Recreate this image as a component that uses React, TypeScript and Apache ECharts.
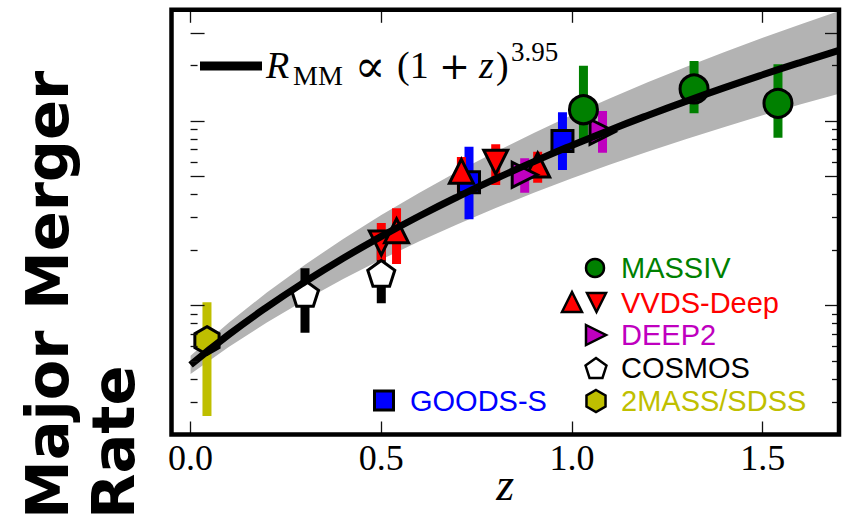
import React, { useEffect, useRef } from 'react';
import * as echarts from 'echarts';

// ---------- data ----------
const xTicks = [0, 0.5, 1.0, 1.5];
const yMajorTicks = [0.01, 0.05, 0.1, 0.3];
const yMinorTicks = [0.003, 0.004, 0.005, 0.006, 0.007, 0.008, 0.009, 0.02, 0.03, 0.04, 0.06, 0.07, 0.08, 0.09, 0.2];

const fitZ = [0, 0.1, 0.2, 0.3, 0.4, 0.5, 0.6, 0.7, 0.8, 0.9, 1.0, 1.1, 1.2, 1.3, 1.4, 1.5, 1.6, 1.7];
const fitRate = [0.00477, 0.00695, 0.0098, 0.01344, 0.01802, 0.02367, 0.03054, 0.0388, 0.0486, 0.0602, 0.0737, 0.0894, 0.1074, 0.128, 0.1515, 0.178, 0.2078, 0.2412];
const bandUpper = [0.00534, 0.00807, 0.01176, 0.01664, 0.02293, 0.03092, 0.04088, 0.05314, 0.06808, 0.08603, 0.1075, 0.1327, 0.1623, 0.1968, 0.2366, 0.2823, 0.3345, 0.394];
const bandLower = [0.00426, 0.00596, 0.00809, 0.01072, 0.01392, 0.01774, 0.02227, 0.02757, 0.03372, 0.04077, 0.04886, 0.058, 0.06833, 0.07992, 0.09282, 0.1072, 0.123, 0.1405];

// [z, rate, low, high]
const cosmos = [[0.3, 0.01164, 0.00712, 0.0159], [0.5, 0.01494, 0.01028, 0.0205]];
const sdss = [[0.043, 0.00645, 0.00252, 0.0104]];
const goods = [[0.73, 0.0465, 0.0293, 0.0725], [0.975, 0.0778, 0.0542, 0.1113]];
const vvdsDown = [[0.5, 0.0218, 0.0176, 0.028], [0.8, 0.0597, 0.045, 0.0747]];
const vvdsUp = [[0.54, 0.0254, 0.0168, 0.0336], [0.71, 0.0533, 0.0412, 0.0637], [0.91, 0.0577, 0.0463, 0.068]];
const deep2 = [[0.876, 0.0511, 0.0408, 0.0627], [1.08, 0.0874, 0.0672, 0.1132]];
const massiv = [[1.03, 0.115, 0.0771, 0.199], [1.32, 0.149, 0.11, 0.211], [1.54, 0.1245, 0.0811, 0.203]];

const legendNames = ['MASSIV', 'VVDS-Deep', 'DEEP2', 'COSMOS', '2MASS/SDSS'];
const legendColors = ['#008000', '#ff0000', '#bf00bf', '#000000', '#bfbf00'];

// ---------- styles ----------
const GREEN = '#008000';
const RED = '#ff0000';
const MAGENTA = '#bf00bf';
const BLUE = '#0000ff';
const OLIVE = '#bfbf00';

const DOWN_TRI = 'path://M0,0L2,0L1,2Z';
const RIGHT_TRI = 'path://M0,0L2,1L0,2Z';
const PENTAGON = 'path://M1,0L1.951,0.691L1.588,1.809L0.412,1.809L0.049,0.691Z';
const HEXAGON = 'path://M0.866,0L1.732,0.5L1.732,1.5L0.866,2L0,1.5L0,0.5Z';

function errSeries(name: string, data: number[][], color: string) {
  return {
    type: 'custom',
    name,
    data: data.map((d) => [d[0], d[2], d[3]]),
    encode: { x: 0, y: [1, 2] },
    clip: true,
    silent: true,
    renderItem: (params: any, api: any) => {
      const top = api.coord([api.value(0), api.value(2)]);
      const bot = api.coord([api.value(0), api.value(1)]);
      return {
        type: 'rect',
        shape: { x: top[0] - 4.5, y: top[1], width: 9, height: bot[1] - top[1] },
        style: { fill: color },
      };
    },
  };
}

function markSeries(name: string, data: number[][], color: string, symbol: string, size: any) {
  return {
    type: 'scatter',
    name,
    data: data.map((d) => [d[0], d[1]]),
    symbol,
    symbolSize: size,
    symbolKeepAspect: true,
    silent: true,
    itemStyle: { color, borderColor: '#000', borderWidth: 3, opacity: 1 },
  };
}

function regularPolygon(cx: number, cy: number, r: number, n: number) {
  const pts: number[][] = [];
  for (let k = 0; k < n; k++) {
    const a = (2 * Math.PI * k) / n;
    pts.push([cx + r * Math.sin(a), cy - r * Math.cos(a)]);
  }
  return pts;
}

function txt(text: string, x: number, y: number, font: any, align = 'left') {
  return {
    type: 'text',
    z: 100,
    x,
    y,
    style: {
      text,
      fill: '#000',
      align,
      verticalAlign: 'middle',
      textAlign: align,
      textVerticalAlign: 'middle',
      ...font,
    },
  };
}

export default function App() {
  const ref = useRef<HTMLDivElement>(null);
  useEffect(() => {
    if (!ref.current) return;
    const chart = echarts.init(ref.current, null, { renderer: 'svg' });

    const tickStyle = { color: '#111', width: 1.3 };
    const yBase = (pos: string, len: number, vals: number[]) => ({
      type: 'log',
      min: 0.002,
      max: 0.4,
      position: pos,
      z: 10,
      axisLine: { show: false },
      axisTick: { show: true, inside: true, length: len, customValues: vals, lineStyle: tickStyle },
      axisLabel: { show: false },
      splitLine: { show: false },
      minorTick: { show: false },
    });

    const legendRows = [268, 303, 335, 368, 401];
    const legendText = legendNames.map((n, i) => ({
      type: 'text',
      z: 100,
      x: 621,
      y: legendRows[i],
      style: {
        text: n,
        fontFamily: 'Liberation Sans',
        fontSize: 29,
        fill: legendColors[i],
        align: 'left',
        verticalAlign: 'middle',
        textAlign: 'left',
        textVerticalAlign: 'middle',
      },
    }));

    const mk = { stroke: '#000', lineWidth: 2.5 };
    const serif = 'Liberation Serif';
    const mainC = 65.2;
    const graphics: any[] = [
      // formula legend
      { type: 'line', z: 100, shape: { x1: 200, y1: 66, x2: 262, y2: 66 }, style: { stroke: '#000', lineWidth: 9 } },
      txt('R', 266, mainC, { fontFamily: serif, fontStyle: 'italic', fontSize: 38 }),
      txt('MM', 293, 75, { fontFamily: serif, fontSize: 28 }),
      txt('∝', 370, mainC + 1, { fontFamily: 'DejaVu Serif', fontSize: 46 }, 'center'),
      txt('(1', 397, mainC, { fontFamily: serif, fontSize: 38 }),
      txt('+', 454.5, mainC + 1, { fontFamily: 'DejaVu Serif', fontSize: 37 }, 'center'),
      txt('z', 479, mainC, { fontFamily: serif, fontStyle: 'italic', fontSize: 38 }),
      txt(')', 496, mainC, { fontFamily: serif, fontSize: 38 }),
      txt('3.95', 511, 52, { fontFamily: serif, fontSize: 27 }),
      // y-axis title
      {
        type: 'text',
        z: 100,
        x: 14,
        y: 519,
        rotation: Math.PI / 2,
        style: {
          text: 'Major Merger\nRate',
          fontFamily: 'DejaVu Sans',
          fontWeight: 'bold',
          fontSize: 59,
          lineHeight: 66,
          fill: '#000',
          align: 'left',
          verticalAlign: 'top',
          textAlign: 'left',
          textVerticalAlign: 'top',
        },
      },
      // legend markers
      { type: 'circle', z: 100, shape: { cx: 595, cy: 268, r: 9 }, style: { fill: GREEN, ...mk } },
      { type: 'polygon', z: 100, shape: { points: [[572, 292], [562, 312], [582, 312]] }, style: { fill: RED, ...mk } },
      { type: 'polygon', z: 100, shape: { points: [[587, 293], [606, 293], [596.5, 312]] }, style: { fill: RED, ...mk } },
      { type: 'polygon', z: 100, shape: { points: [[586, 325], [606, 335], [586, 345]] }, style: { fill: MAGENTA, ...mk } },
      { type: 'polygon', z: 100, shape: { points: regularPolygon(596, 369, 11, 5) }, style: { fill: '#ffffff', ...mk } },
      { type: 'polygon', z: 100, shape: { points: regularPolygon(596, 401, 11, 6) }, style: { fill: OLIVE, ...mk } },
      { type: 'rect', z: 100, shape: { x: 374.5, y: 391, width: 19, height: 19 }, style: { fill: BLUE, stroke: '#000', lineWidth: 3 } },
      {
        type: 'text',
        z: 100,
        x: 410,
        y: 401,
        style: {
          text: 'GOODS-S',
          fontFamily: 'Liberation Sans',
          fontSize: 29,
          fill: BLUE,
          align: 'left',
          verticalAlign: 'middle',
          textAlign: 'left',
          textVerticalAlign: 'middle',
        },
      },
      ...legendText,
    ];

    const option: any = {
      animation: false,
      backgroundColor: '#ffffff',
      grid: {
        left: 171.5,
        right: 9,
        top: 9.8,
        bottom: 85.5,
        containLabel: false,
        outerBoundsMode: 'none',
        show: true,
        borderColor: '#000',
        borderWidth: 4.5,
        backgroundColor: 'rgba(0,0,0,0)',
        z: 20,
      },
      xAxis: [
        {
          type: 'value',
          min: -0.05,
          max: 1.7,
          position: 'bottom',
          z: 10,
          axisLine: { show: false },
          axisTick: { show: true, inside: true, length: 13, customValues: xTicks, lineStyle: tickStyle },
          axisLabel: {
            show: true,
            customValues: xTicks,
            formatter: (v: number) => v.toFixed(1),
            fontFamily: 'Liberation Serif',
            fontSize: 36,
            color: '#000',
            margin: 5,
          },
          splitLine: { show: false },
          name: 'z',
          nameLocation: 'middle',
          nameGap: 27,
          nameMoveOverlap: false,
          nameTextStyle: { fontFamily: 'Liberation Serif', fontStyle: 'italic', fontSize: 46, color: '#000' },
        },
        {
          type: 'value',
          min: -0.05,
          max: 1.7,
          position: 'top',
          z: 10,
          axisLine: { show: false },
          axisTick: { show: true, inside: true, length: 13, customValues: xTicks, lineStyle: tickStyle },
          axisLabel: { show: false },
          splitLine: { show: false },
        },
      ],
      yAxis: [
        yBase('left', 14, yMajorTicks),
        yBase('left', 7, yMinorTicks),
        yBase('right', 14, yMajorTicks),
        yBase('right', 7, yMinorTicks),
      ],
      graphic: graphics,
      series: [
        {
          type: 'custom',
          name: 'band',
          data: [[0, 0.01]],
          clip: true,
          silent: true,
          renderItem: (params: any, api: any) => {
            const pts: number[][] = [];
            for (let i = 0; i < fitZ.length; i++) pts.push(api.coord([fitZ[i], bandUpper[i]]));
            for (let i = fitZ.length - 1; i >= 0; i--) pts.push(api.coord([fitZ[i], bandLower[i]]));
            return { type: 'polygon', shape: { points: pts }, style: { fill: '#b3b3b3' } };
          },
        },
        {
          type: 'line',
          name: 'fit',
          data: fitZ.map((z, i) => [z, fitRate[i]]),
          showSymbol: false,
          symbol: 'none',
          smooth: true,
          clip: true,
          silent: true,
          lineStyle: { color: '#000', width: 7 },
        },
        errSeries('COSMOS err', cosmos, '#000'),
        markSeries('COSMOS', cosmos, '#ffffff', PENTAGON, 27),
        errSeries('2MASS/SDSS err', sdss, OLIVE),
        markSeries('2MASS/SDSS', sdss, OLIVE, HEXAGON, 28),
        errSeries('GOODS-S err', goods, BLUE),
        markSeries('GOODS-S', goods, BLUE, 'rect', 21),
        errSeries('VVDS-Deep err', vvdsDown, RED),
        markSeries('VVDS-Deep', vvdsDown, RED, DOWN_TRI, 24),
        errSeries('VVDS-Deep err2', vvdsUp, RED),
        markSeries('VVDS-Deep up', vvdsUp, RED, 'triangle', 24),
        errSeries('DEEP2 err', deep2, MAGENTA),
        markSeries('DEEP2', deep2, MAGENTA, RIGHT_TRI, 25),
        errSeries('MASSIV err', massiv, GREEN),
        markSeries('MASSIV', massiv, GREEN, 'circle', 28),
      ],
    };
    chart.setOption(option);
    return () => chart.dispose();
  }, []);
  return <div ref={ref} style={{ position: 'fixed', left: 0, top: 0, width: 848, height: 520 }} />;
}
